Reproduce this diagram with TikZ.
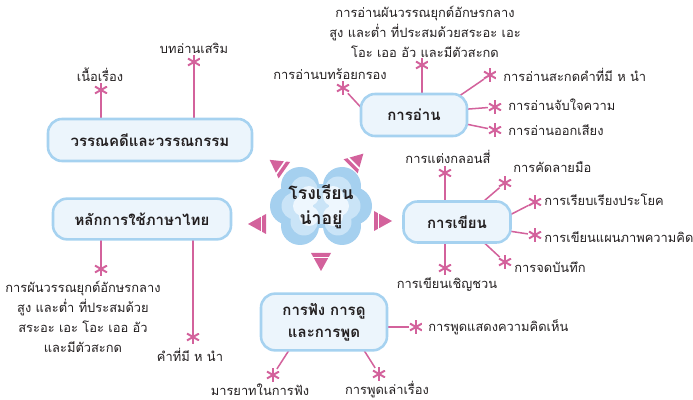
\documentclass[tikz,border=0pt]{standalone}
\usepackage{fontspec}
\setmainfont[Script=Thai]{Loma}
\usepackage{tikz}
\usetikzlibrary{calc}
\pgfdeclarelayer{bg}
\pgfsetlayers{bg,main}
\definecolor{pinkline}{RGB}{211,98,156}
\definecolor{boxline}{RGB}{166,210,240}
\definecolor{boxfill}{RGB}{236,245,252}
\definecolor{cloudout}{RGB}{165,208,239}
\definecolor{cloudmid}{RGB}{202,228,247}
\definecolor{cloudin}{RGB}{238,247,254}
\definecolor{txt}{RGB}{35,31,32}

\begin{document}
\begin{tikzpicture}[x=0.03cm,y=-0.03cm,
	topic/.style={draw=boxline, fill=boxfill, line width=2.2pt, rounded corners=0.42cm,
		align=center, text=txt, font=\bfseries\fontsize{12.8}{19}\selectfont},
	aster/.style={circle, inner sep=0pt, minimum size=0.42cm,
		path picture={\foreach \a in {90,30,150}
			\draw[pinkline, line width=1.7pt] ($(path picture bounding box.center)+(\a:0.21cm)$)
			-- ($(path picture bounding box.center)+(\a+180:0.21cm)$);}},
	lbl/.style={text=txt, inner sep=1pt, align=center, font=\fontsize{11}{17}\selectfont},
	link/.style={pinkline, line width=1.3pt}]
	\useasboundingbox (0,0) rectangle (693,400);

	% cloud in the middle
	\foreach \dx/\dy in {-21/-20, 21/-20, 32/0, 21/20, -21/20, -32/0}
		\fill[cloudout] (321+\dx,206+\dy) circle (19);
	\fill[cloudout] (321,206) ellipse (26 and 22);
	\foreach \dx/\dy in {-17/-16, 17/-16, 26/0, 17/16, -17/16, -26/0}
		\fill[cloudmid] (321+\dx,206+\dy) circle (13.5);
	\fill[cloudmid] (321,206) ellipse (22 and 18);
	\foreach \dx/\dy in {-12/-10, 12/-10, 18/0, 12/10, -12/10, -18/0}
		\fill[cloudin] (321+\dx,206+\dy) circle (10);
	\node[text=txt, align=center, font=\bfseries\fontsize{15}{21}\selectfont] (school) at (321,207) {โรงเรียน\\น่าอยู่};

	% triangles round the cloud
	\foreach \x/\y/\r in {277/165/145, 357/160/45, 257/224/180, 383/221/0, 321/262/270}{
		\begin{scope}[shift={(\x,\y)}, rotate=\r]
			\fill[pinkline] (-9,-10) -- (9,0) -- (-9,10) -- cycle;
			\draw[white, line width=1.4pt] (-4.5,-11) -- (-4.5,11);
		\end{scope}
	}

	% topic boxes
	\node[topic, minimum width=6.12cm, minimum height=1.26cm] (lit) at (150,140) {วรรณคดีและวรรณกรรม};
	\node[topic, minimum width=5.34cm, minimum height=1.22cm] (rules) at (142,219) {หลักการใช้ภาษาไทย};
	\node[topic, minimum width=3.18cm, minimum height=1.26cm] (read) at (414,115) {การอ่าน};
	\node[topic, minimum width=3.21cm, minimum height=1.23cm] (write) at (457,222) {การเขียน};
	\node[topic, minimum width=3.78cm, minimum height=1.7cm] (listen) at (324,322) {การฟัง การดู\\และการพูด};

	% stars
	\node[aster] (lit1) at (101,90) {};
	\node[aster] (lit2) at (194,62) {};
	\node[aster] (rules1) at (101,269) {};
	\node[aster] (rules2) at (193,337) {};
	\node[aster] (read1) at (343,88) {};
	\node[aster] (read2) at (422,65) {};
	\node[aster] (read3) at (490,75) {};
	\node[aster] (read4) at (495,107) {};
	\node[aster] (read5) at (495,130) {};
	\node[aster] (write1) at (445,173) {};
	\node[aster] (write2) at (505,183) {};
	\node[aster] (write3) at (535,202) {};
	\node[aster] (write4) at (535,235) {};
	\node[aster] (write5) at (505,262) {};
	\node[aster] (write6) at (445,268) {};
	\node[aster] (listen1) at (416,327) {};
	\node[aster] (listen2) at (273,375) {};
	\node[aster] (listen3) at (379,374) {};

	% labels
	\node[lbl] (lit1t) at (100,75) {เนื้อเรื่อง};
	\node[lbl] (lit2t) at (194,48) {บทอ่านเสริม};
	\node[lbl] (rules1t) at (83,317) {การผันวรรณยุกต์อักษรกลาง\\สูง และต่ำ ที่ประสมด้วย\\สระอะ เอะ โอะ เออ อัว\\และมีตัวสะกด};
	\node[lbl] (rules2t) at (190,355) {คำที่มี ห นำ};
	\node[lbl] (read1t) at (330,74) {การอ่านบทร้อยกรอง};
	\node[lbl] (read2t) at (425,32) {การอ่านผันวรรณยุกต์อักษรกลาง\\สูง และต่ำ ที่ประสมด้วยสระอะ เอะ\\โอะ เออ อัว และมีตัวสะกด};
	\node[lbl, anchor=west] (read3t) at (502,75) {การอ่านสะกดคำที่มี ห นำ};
	\node[lbl, anchor=west] (read4t) at (507,105) {การอ่านจับใจความ};
	\node[lbl, anchor=west] (read5t) at (507,130) {การอ่านออกเสียง};
	\node[lbl] (write1t) at (448,157) {การแต่งกลอนสี่};
	\node[lbl, anchor=west] (write2t) at (512,167) {การคัดลายมือ};
	\node[lbl, anchor=west] (write3t) at (543,200) {การเรียบเรียงประโยค};
	\node[lbl, anchor=west] (write4t) at (543,237) {การเขียนแผนภาพความคิด};
	\node[lbl, anchor=west] (write5t) at (513,267) {การจดบันทึก};
	\node[lbl] (write6t) at (447,285) {การเขียนเชิญชวน};
	\node[lbl, anchor=west] (listen1t) at (427,327) {การพูดแสดงความคิดเห็น};
	\node[lbl] (listen2t) at (260,390) {มารยาทในการฟัง};
	\node[lbl] (listen3t) at (387,390) {การพูดเล่าเรื่อง};

	% connectors, behind the boxes
	\begin{pgfonlayer}{bg}
		\draw[link] (lit.center -| lit1) -- (lit1);
		\draw[link] (lit.center -| lit2) -- (lit2);
		\draw[link] (rules.center -| rules1) -- (rules1);
		\draw[link] (rules.center -| rules2) -- (rules2);
		\draw[link] ($(read.center)+(-47,-1)$) -- (read1);
		\draw[link] (read.center -| read2) -- (read2);
		\draw[link] ($(read.center)+(38,-14)$) -- (read3);
		\draw[link] ($(read.center)+(42,-5)$) -- (read4);
		\draw[link] ($(read.center)+(42,7)$) -- (read5);
		\draw[link] (write.center -| write1) -- (write1);
		\draw[link] ($(write.center)+(20,-15)$) -- (write2);
		\draw[link] ($(write.center)+(45,-3)$) -- (write3);
		\draw[link] ($(write.center)+(45,8)$) -- (write4);
		\draw[link] ($(write.center)+(21,15)$) -- (write5);
		\draw[link] (write.center -| write6) -- (write6);
		\draw[link] (listen.center |- listen1) -- (listen1);
		\draw[link] ($(listen.center)+(-31,22)$) -- (listen2);
		\draw[link] ($(listen.center)+(36,22)$) -- (listen3);
	\end{pgfonlayer}
\end{tikzpicture}
\end{document}
